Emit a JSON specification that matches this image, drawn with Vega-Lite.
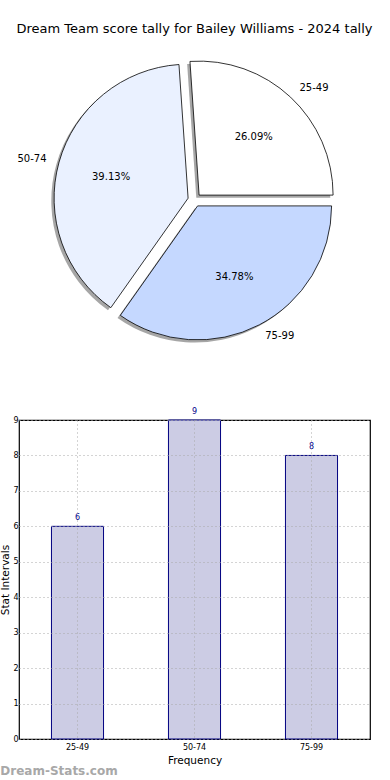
{
  "$schema": "https://vega.github.io/schema/vega-lite/v6.json",
  "padding": {"left": 0, "top": 23, "right": 18, "bottom": 2},
  "background": "white",
  "config": {"font": "DejaVu Sans", "view": {"stroke": null}},
  "title": {"text": "Dream-Stats.com", "orient": "bottom", "anchor": "start", "frame": "bounds", "fontSize": 12, "fontWeight": "bold", "color": "#a8a8a8", "offset": 0},
  "data": {"values": [
    {"range": "25-49", "count": 6, "pct": "26.09%"},
    {"range": "50-74", "count": 9, "pct": "39.13%"},
    {"range": "75-99", "count": 8, "pct": "34.78%"}
  ]},
  "spacing": 52,
  "vconcat": [
    {
      "width": 351,
      "height": 310,
      "title": {"text": "Dream Team score tally for Bailey Williams - 2024 tally", "fontSize": 13, "fontWeight": "normal", "color": "black", "offset": 9, "anchor": "middle"},
      "encoding": {
        "theta": {"field": "count", "type": "quantitative", "stack": true, "scale": {"range": [1.5708, -4.7124]}},
        "order": {"field": "range", "type": "ordinal"}
      },
      "layer": [
        {"mark": {"type": "arc", "radius": 134, "xOffset": 1.8, "yOffset": -2.3, "fill": "#4d4d4d", "fillOpacity": 0.5, "strokeWidth": 0},
         "encoding": {"opacity": {"condition": {"test": "datum.range === '25-49'", "value": 1}, "value": 0}}},
        {"mark": {"type": "arc", "radius": 134, "xOffset": -9.2, "yOffset": 0.8, "fill": "#4d4d4d", "fillOpacity": 0.5, "strokeWidth": 0},
         "encoding": {"opacity": {"condition": {"test": "datum.range === '50-74'", "value": 1}, "value": 0}}},
        {"mark": {"type": "arc", "radius": 134, "xOffset": 0.3, "yOffset": 8.5, "fill": "#4d4d4d", "fillOpacity": 0.5, "strokeWidth": 0},
         "encoding": {"opacity": {"condition": {"test": "datum.range === '75-99'", "value": 1}, "value": 0}}},
        {"mark": {"type": "arc", "radius": 134, "xOffset": 4.6, "yOffset": -4.9, "stroke": "black", "strokeWidth": 0.8},
         "encoding": {"color": {"field": "range", "type": "nominal", "scale": {"domain": ["25-49", "50-74", "75-99"], "range": ["#ffffff", "#eaf1ff", "#c5d8ff"]}, "legend": null}, "opacity": {"condition": {"test": "datum.range === '25-49'", "value": 1}, "value": 0}}},
        {"mark": {"type": "arc", "radius": 134, "xOffset": -6.4, "yOffset": -1.8, "stroke": "black", "strokeWidth": 0.8},
         "encoding": {"color": {"field": "range", "type": "nominal", "legend": null}, "opacity": {"condition": {"test": "datum.range === '50-74'", "value": 1}, "value": 0}}},
        {"mark": {"type": "arc", "radius": 134, "xOffset": 3.1, "yOffset": 5.9, "stroke": "black", "strokeWidth": 0.8},
         "encoding": {"color": {"field": "range", "type": "nominal", "legend": null}, "opacity": {"condition": {"test": "datum.range === '75-99'", "value": 1}, "value": 0}}},
        {"mark": {"type": "text", "radius": 80, "xOffset": 4.6, "yOffset": -4.9, "fontSize": 10, "color": "black", "baseline": "middle", "align": "center"},
         "encoding": {"text": {"field": "pct"}, "opacity": {"condition": {"test": "datum.range === '25-49'", "value": 1}, "value": 0}}},
        {"mark": {"type": "text", "radius": 80, "xOffset": -6.4, "yOffset": -1.8, "fontSize": 10, "color": "black", "baseline": "middle", "align": "center"},
         "encoding": {"text": {"field": "pct"}, "opacity": {"condition": {"test": "datum.range === '50-74'", "value": 1}, "value": 0}}},
        {"mark": {"type": "text", "radius": 80, "xOffset": 3.1, "yOffset": 5.9, "fontSize": 10, "color": "black", "baseline": "middle", "align": "center"},
         "encoding": {"text": {"field": "pct"}, "opacity": {"condition": {"test": "datum.range === '75-99'", "value": 1}, "value": 0}}},
        {"mark": {"type": "text", "radius": 147, "xOffset": 4.6, "yOffset": -4.9, "fontSize": 10, "color": "black", "baseline": "middle", "align": "left"},
         "encoding": {"text": {"field": "range"}, "opacity": {"condition": {"test": "datum.range === '25-49'", "value": 1}, "value": 0}}},
        {"mark": {"type": "text", "radius": 147, "xOffset": -6.4, "yOffset": -1.8, "fontSize": 10, "color": "black", "baseline": "middle", "align": "right"},
         "encoding": {"text": {"field": "range"}, "opacity": {"condition": {"test": "datum.range === '50-74'", "value": 1}, "value": 0}}},
        {"mark": {"type": "text", "radius": 147, "xOffset": 3.1, "yOffset": 5.9, "fontSize": 10, "color": "black", "baseline": "middle", "align": "left"},
         "encoding": {"text": {"field": "range"}, "opacity": {"condition": {"test": "datum.range === '75-99'", "value": 1}, "value": 0}}}
      ]
    },
    {
      "width": 351,
      "height": 319,
      "view": {"stroke": "black", "strokeWidth": 1.2},
      "encoding": {
        "x": {"field": "range", "type": "nominal", "title": "Frequency",
              "scale": {"paddingInner": 0, "paddingOuter": 0},
              "axis": {"labelAngle": 0, "labelFontSize": 8, "labelColor": "black", "titleFontSize": 10.5, "titleFontWeight": "normal", "titleColor": "black",
                       "ticks": false, "labelPadding": 4, "titlePadding": 4, "domain": false,
                       "grid": true, "gridDash": [1, 3], "gridColor": "#a8a8a8", "gridWidth": 1, "bandPosition": 0.5, "zindex": 1}},
        "y": {"field": "count", "type": "quantitative", "title": "Stat Intervals",
              "scale": {"domain": [0, 9], "nice": false},
              "axis": {"values": [0, 1, 2, 3, 4, 5, 6, 7, 8, 9], "format": "d", "labelFontSize": 8, "labelColor": "black", "titleFontSize": 10.5, "titleFontWeight": "normal", "titleColor": "black",
                       "ticks": false, "labelPadding": 1, "titlePadding": 2, "domain": false,
                       "grid": true, "gridDash": [1, 3], "gridColor": "#a8a8a8", "gridWidth": 1, "zindex": 1}}
      },
      "layer": [
        {"mark": {"type": "bar", "width": {"band": 0.445}, "fill": "#ccccE4", "stroke": "#000080", "strokeWidth": 1}},
        {"mark": {"type": "text", "baseline": "bottom", "dy": -4, "fontSize": 8, "color": "#00008b"}, "encoding": {"text": {"field": "count"}}}
      ]
    }
  ]
}
